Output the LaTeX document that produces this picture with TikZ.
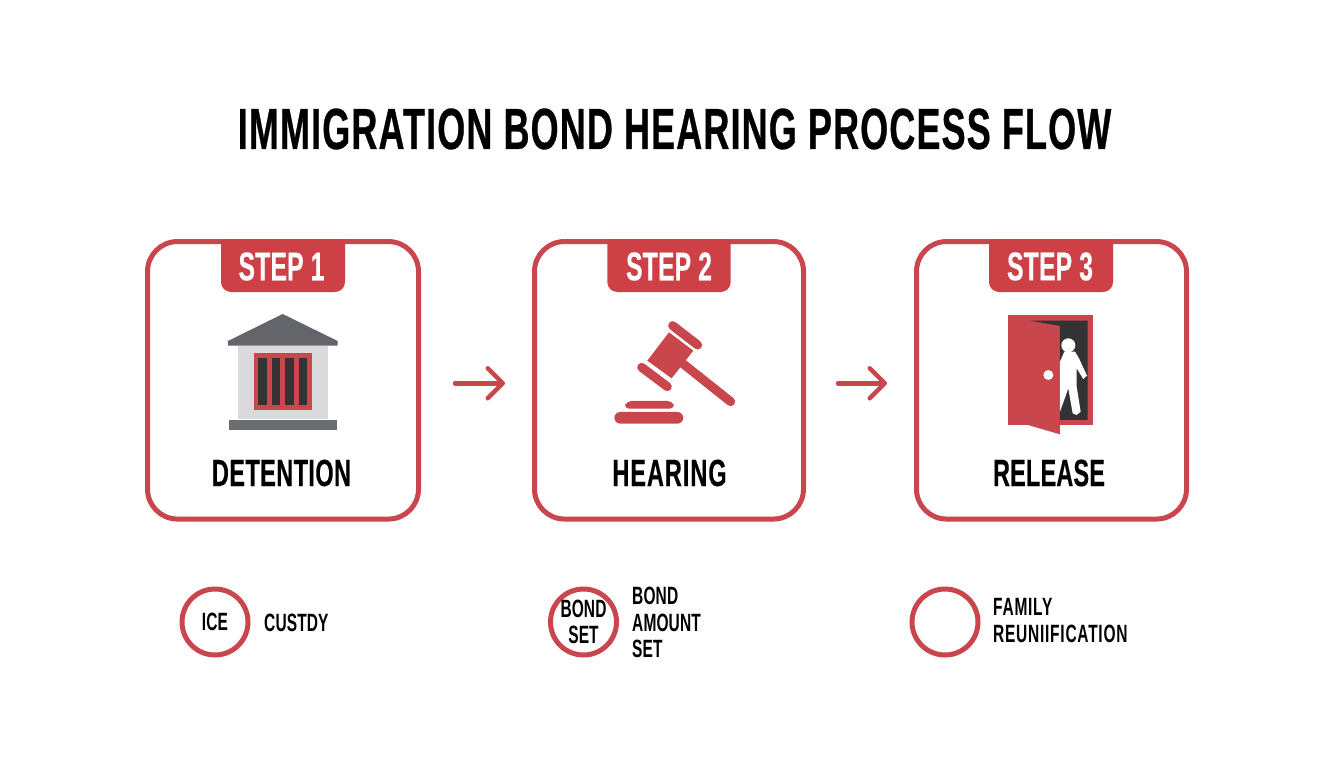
\documentclass[tikz,border=0pt]{standalone}
\usepackage{fontspec}
\setmainfont[FakeStretch=0.62]{Liberation Sans}
\usetikzlibrary{arrows.meta,calc}
\definecolor{brandred}{HTML}{C8464C}
\definecolor{tabred}{HTML}{CD4046}
\definecolor{roofgrey}{HTML}{63656A}
\definecolor{wallgrey}{HTML}{DADADC}
\definecolor{bardark}{HTML}{333335}
\tikzset{
  card/.style={draw=brandred,line width=5pt,rounded corners=30pt,fill=white,inner sep=0pt,minimum height=277.5pt},
  tabshape/.style={fill=tabred,rounded corners=10pt},
  titletext/.style={text=black,font=\bfseries\fontsize{58}{58}\selectfont\addfontfeature{LetterSpace=2,FakeBold=0.5},inner sep=0pt},
  steplabel/.style={text=white,font=\bfseries\fontsize{40}{40}\selectfont\addfontfeature{LetterSpace=0.3,FakeBold=0.3},inner sep=0pt},
  cardlabel/.style={text=black,font=\bfseries\fontsize{38}{38}\selectfont\addfontfeature{LetterSpace=1,FakeBold=0.3},inner sep=0pt},
  ring/.style={circle,draw=brandred,line width=5pt,fill=white,minimum size=66pt,inner sep=0pt},
  small/.style={text=black,font=\bfseries\fontsize{25}{26.5}\selectfont\addfontfeature{LetterSpace=0.5},inner sep=0pt,align=left},
  smallc/.style={small,align=center},
  flow/.style={draw=brandred,line width=4.5pt,line cap=round,-{Straight Barb[length=15pt,width=30pt,round,line width=4.5pt]}},
  gavelbar/.style={draw=brandred,line width=9pt,line cap=round},
}
\begin{document}
\begin{tikzpicture}[x=1pt,y=-1pt]
\useasboundingbox (0,0) rectangle (1344,768);
\fill[white] (0,0) rectangle (1344,768);
\node[titletext] (title) at (674.5,129) {IMMIGRATION BOND HEARING PROCESS FLOW};
% cards
\node[card,minimum width=271pt] (c1) at (283,380.3) {};
\node[card,minimum width=269pt] (c2) at (669,380.3) {};
\node[card,minimum width=270pt] (c3) at (1051.5,380.3) {};
% tabs
\fill[tabshape] (221,239) [sharp corners] -- (345,239) [rounded corners=10pt] -- (345,292) -- (221,292) [sharp corners] -- cycle;
\fill[tabshape] (607.3,239) [sharp corners] -- (730.7,239) [rounded corners=10pt] -- (730.7,292) -- (607.3,292) [sharp corners] -- cycle;
\fill[tabshape] (989,239) [sharp corners] -- (1113,239) [rounded corners=10pt] -- (1113,292) -- (989,292) [sharp corners] -- cycle;
\node[steplabel] (s1) at (281.5,266.5) {STEP 1};
\node[steplabel] (s2) at (669,266.5) {STEP 2};
\node[steplabel] (s3) at (1050,266.5) {STEP 3};
\node[cardlabel] (l1) at (281.5,473) {DETENTION};
\node[cardlabel,font=\bfseries\fontsize{38}{38}\selectfont\addfontfeature{LetterSpace=2.5,FakeBold=0.3}] (l2) at (669.5,473) {HEARING};
\node[cardlabel,font=\bfseries\fontsize{38}{38}\selectfont\addfontfeature{LetterSpace=0.3,FakeBold=0.3}] (l3) at (1049,473) {RELEASE};
% building
\begin{scope}[shift={(140,230)},x=0.3333pt,y=-0.3333pt]
\fill[roofgrey] (428,252) -- (593,333) -- (593,347) -- (264,347) -- (264,333) -- cycle;
\fill[wallgrey] (295,347) rectangle (563,567);
\fill[brandred] (342,370) rectangle (516,540);
\fill[bardark] (355,383) rectangle (381,526);
\fill[bardark] (395,383) rectangle (421,526);
\fill[bardark] (436,383) rectangle (462,526);
\fill[bardark] (476,383) rectangle (502,526);
\fill[roofgrey!95!white] (268,569) rectangle (590,599);
\end{scope}
% gavel
\begin{scope}[shift={(525,230)},x=0.3333pt,y=-0.3333pt]
\fill[brandred] (432,307) -- (505,362) -- (440,445) -- (367,392) -- cycle;
\draw[gavelbar] (443,287) -- (518,345);
\draw[gavelbar] (350,412) -- (427,470);
\draw[gavelbar] (470,398) -- (617,515);
\fill[brandred,rounded corners=5pt] (297,536) -- (304,513) -- (443,513) -- (450,536) -- cycle;
\fill[brandred,rounded corners=6pt] (268,546) rectangle (475,581);
\end{scope}
% door
\begin{scope}[shift={(905,230)},x=0.3333pt,y=-0.3333pt]
\fill[brandred] (310,256) rectangle (564,586);
\fill[bardark] (376,272) -- (548,272) -- (548,570) -- (465,570) -- (465,288) -- cycle;
\fill[white] (478,365) -- (510,365) -- (522,385) -- (546,437) -- (535,447) -- (515,415) -- (515,470) -- (527,545) -- (515,555) -- (503,550) -- (490,475) -- (465,545) -- (465,395) -- cycle;
\fill[white] (490,346) circle[radius=21];
\fill[brandred] (372,586) -- (465,613) -- (465,570) -- (372,570) -- cycle;
\fill[white] (430,435) circle[radius=15];
\end{scope}
% arrows
\draw[flow] ([xshift=34pt,yshift=-3pt]c1.east) -- ([xshift=-27pt,yshift=-3pt]c2.west);
\draw[flow] ([xshift=32pt,yshift=-3pt]c2.east) -- ([xshift=-27pt,yshift=-3pt]c3.west);
% rings
\node[ring] (r1) at (215,622) {};
\node[ring] (r2) at (583.5,622) {};
\node[ring] (r3) at (945,622) {};
\node[small] (ice) at (r1) {ICE};
\node[smallc] (bondset) at (r2) {BOND\\SET};
\node[small,anchor=west] (t1) at (264,622.5) {CUSTDY};
\node[small,anchor=west] (t2) at (632,622.5) {BOND\\AMOUNT\\SET};
\node[small,anchor=west,font=\bfseries\fontsize{25}{26.5}\selectfont\addfontfeature{LetterSpace=3}] (t3) at (993,620.5) {FAMILY\\REUNIIFICATION};
\end{tikzpicture}
\end{document}
